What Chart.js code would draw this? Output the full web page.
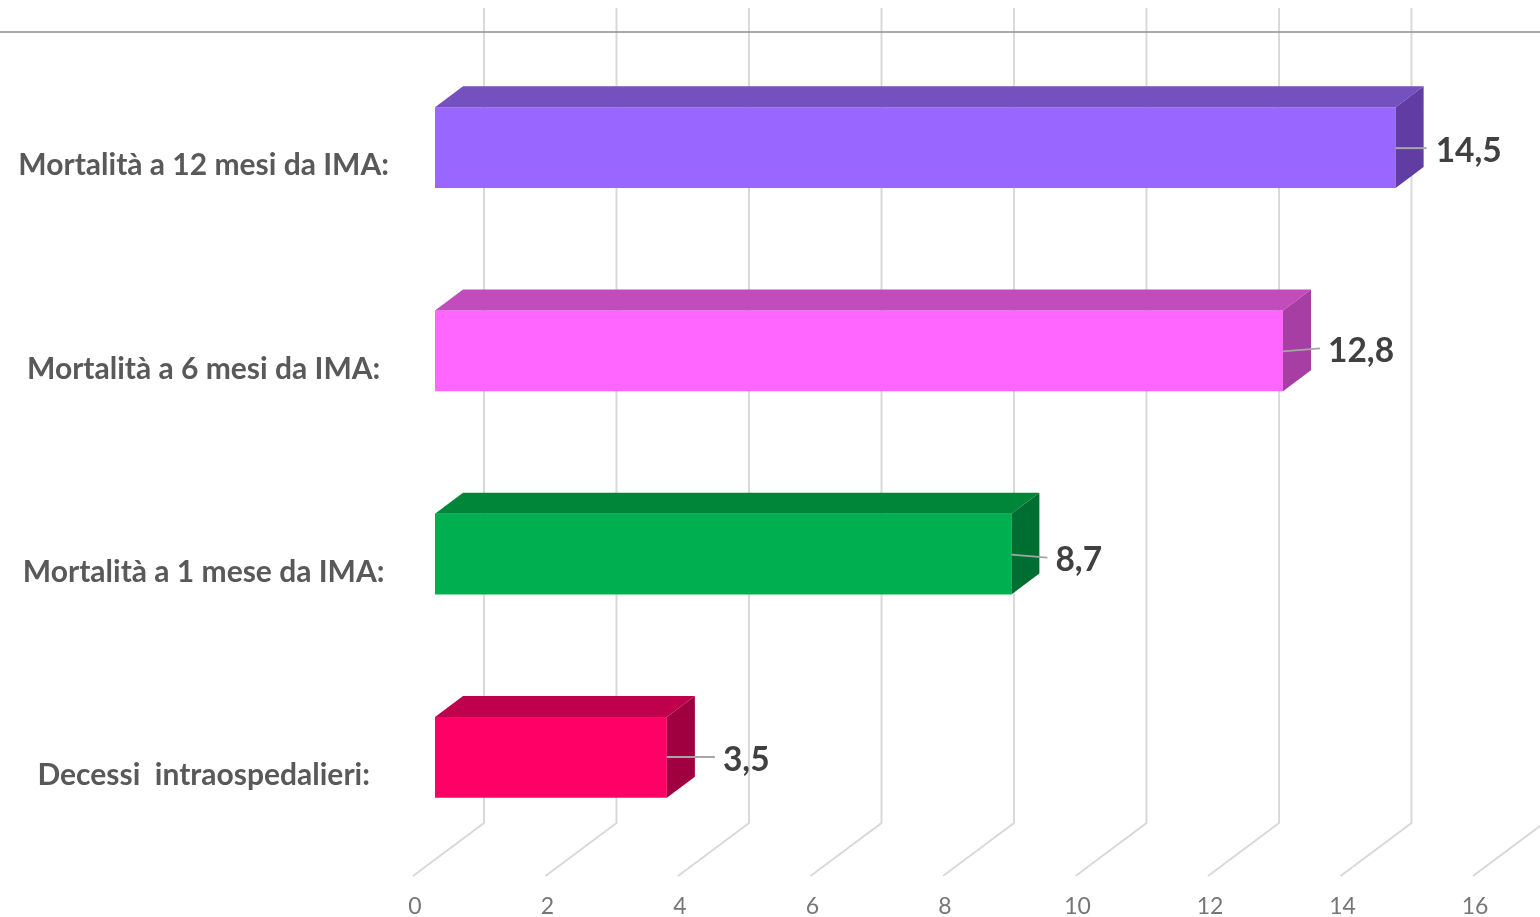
<!DOCTYPE html>
<html>
<head>
<meta charset="utf-8">
<title>Mortalità</title>
<script src="https://cdn.jsdelivr.net/npm/chart.js@4/dist/chart.umd.min.js"></script>
<style>
  html, body { margin: 0; padding: 0; background: #fff; }
  canvas { display: block; }
</style>
</head>
<body>
<canvas id="chart" width="1540" height="917"></canvas>
<script>
const categories = [
  'Mortalità a 12 mesi da IMA:',
  'Mortalità a 6 mesi da IMA:',
  'Mortalità a 1 mese da IMA:',
  'Decessi  intraospedalieri:',
];
const values = [14.5, 12.8, 8.7, 3.5];
const xTicks = [0, 2, 4, 6, 8, 10, 12, 14, 16];

const frontColors = ['#9966ff', '#ff66ff', '#00b050', '#ff0066'];
const topColors = ['#7550bf', '#c24cbb', '#008638', '#bf004d'];
const sideColors = ['#603ca3', '#a63ea3', '#006e30', '#a0003f'];

// leader line + label placement, relative to the end of each bar
const leaders = [
  { end: 31, startDy: 0.5, endDy: 0.5, text: 40, textDy: 3.5 },
  { end: 37, startDy: 0.5, endDy: -2.5, text: 45, textDy: 0.5 },
  { end: 36, startDy: 0.5, endDy: 3.5, text: 44, textDy: 6 },
  { end: 48, startDy: -0.5, endDy: -0.5, text: 56, textDy: 2.5 },
];

const depth = { dx: 28, dy: -21 };
const wall = { dx: 49, top: 8, bottom: 823 };
const floor = { dx: -22, y: 876 };

const formatValue = (v) => v.toFixed(1).replace('.', ',');

function fillPoly(ctx, color, pts) {
  ctx.fillStyle = color;
  ctx.beginPath();
  pts.forEach(([x, y], i) => (i ? ctx.lineTo(x, y) : ctx.moveTo(x, y)));
  ctx.closePath();
  ctx.fill();
}

const walls3d = {
  id: 'walls3d',
  beforeDatasetsDraw(chart) {
    const { ctx, scales } = chart;
    ctx.save();
    ctx.strokeStyle = '#d9d9d9';
    ctx.lineWidth = 2;
    xTicks.forEach((tick) => {
      const px = scales.x.getPixelForValue(tick);
      ctx.beginPath();
      ctx.moveTo(px + wall.dx, wall.top);
      ctx.lineTo(px + wall.dx, wall.bottom);
      ctx.lineTo(px + floor.dx, floor.y);
      ctx.stroke();
    });
    ctx.strokeStyle = '#8c8c8c';
    ctx.lineWidth = 1.5;
    ctx.beginPath();
    ctx.moveTo(0, 32);
    ctx.lineTo(chart.width, 32);
    ctx.stroke();
    ctx.restore();
  },
};

const bars3d = {
  id: 'bars3d',
  afterDatasetsDraw(chart) {
    const { ctx } = chart;
    const bars = chart.getDatasetMeta(0).data;
    ctx.save();
    bars.forEach((bar, i) => {
      const top = bar.y - bar.height / 2;
      const bottom = bar.y + bar.height / 2;
      fillPoly(ctx, topColors[i], [
        [bar.base, top],
        [bar.base + depth.dx, top + depth.dy],
        [bar.x + depth.dx, top + depth.dy],
        [bar.x, top],
      ]);
      fillPoly(ctx, sideColors[i], [
        [bar.x, top],
        [bar.x + depth.dx, top + depth.dy],
        [bar.x + depth.dx, bottom + depth.dy],
        [bar.x, bottom],
      ]);

      const l = leaders[i];
      ctx.strokeStyle = '#a6a6a6';
      ctx.lineWidth = 2;
      ctx.beginPath();
      ctx.moveTo(bar.x, bar.y + l.startDy);
      ctx.lineTo(bar.x + l.end, bar.y + l.endDy);
      ctx.stroke();

      ctx.fillStyle = '#404040';
      ctx.font = 'bold 33.5px Lato';
      ctx.textAlign = 'left';
      ctx.textBaseline = 'middle';
      ctx.fillText(formatValue(values[i]), bar.x + l.text, bar.y + l.textDy);
    });
    ctx.restore();
  },
};

new Chart(document.getElementById('chart'), {
  type: 'bar',
  data: {
    labels: categories,
    datasets: [
      {
        data: values,
        backgroundColor: frontColors,
        borderWidth: 0,
        categoryPercentage: 1,
        barPercentage: 0.398,
      },
    ],
  },
  options: {
    indexAxis: 'y',
    responsive: false,
    animation: false,
    layout: { padding: { top: 46, right: 45, left: 0, bottom: 0 } },
    plugins: {
      legend: { display: false },
      tooltip: { enabled: false },
    },
    scales: {
      x: {
        min: 0,
        max: 16,
        afterBuildTicks: (axis) => {
          axis.ticks = xTicks.map((value) => ({ value }));
        },
        afterFit: (axis) => {
          axis.height = 58;
          axis.paddingLeft = 0;
          axis.paddingRight = 0;
        },
        grid: { display: false, drawTicks: false },
        border: { display: false },
        ticks: {
          autoSkip: false,
          maxRotation: 0,
          labelOffset: -20,
          padding: 34,
          color: '#767676',
          font: { family: 'Lato', size: 23 },
        },
      },
      y: {
        afterFit: (axis) => {
          axis.width = 435;
          axis.paddingTop = 0;
          axis.paddingBottom = 0;
        },
        grid: { display: false, drawTicks: false },
        border: { display: false },
        ticks: {
          crossAlign: 'center',
          labelOffset: 18,
          padding: 46,
          color: '#595959',
          font: { family: 'Lato', size: 30, weight: 'bold' },
        },
      },
    },
  },
  plugins: [walls3d, bars3d],
});
</script>
</body>
</html>
